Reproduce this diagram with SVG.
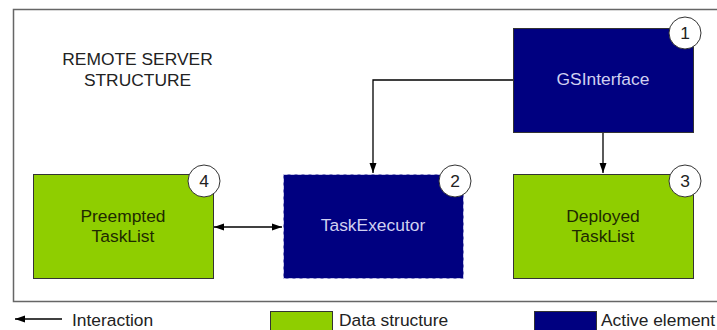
<svg xmlns="http://www.w3.org/2000/svg" width="717" height="330" viewBox="0 0 717 330">
<defs>
<marker id="ah" viewBox="0 0 10 10" refX="10" refY="5" markerWidth="10" markerHeight="10" markerUnits="userSpaceOnUse" orient="auto-start-reverse">
<path d="M0,1.5 L10,5 L0,8.5 z" fill="#000"/>
</marker>
</defs>
<style>
text{font-family:"Liberation Sans",Arial,sans-serif;font-size:17.4px}
.act{fill:#000080;stroke:#333;stroke-width:1}
.dat{fill:#8fce00;stroke:#333;stroke-width:1}
.lt{fill:#d0d0f0;text-anchor:middle}
.dt{fill:#1e2a00;text-anchor:middle}
.badge{fill:#fff;stroke:#333;stroke-width:1}
.bn{fill:#222;text-anchor:middle}
.edge{fill:none;stroke:#000;stroke-width:1.3}
</style>
<rect x="0" y="0" width="717" height="330" fill="#fff"/>
<path d="M720,9.5 H13.5 V301.5 H720" fill="none" stroke="#666" stroke-width="1.5"/>
<text x="137.5" y="65" text-anchor="middle" fill="#222">REMOTE SERVER</text>
<text x="137.5" y="86" text-anchor="middle" fill="#222">STRUCTURE</text>
<g id="connectors">
<path class="edge" d="M513,80 H373 V173" marker-end="url(#ah)"/>
<path class="edge" d="M603,132 V173" marker-end="url(#ah)"/>
<path class="edge" d="M214,227 H282" marker-start="url(#ah)" marker-end="url(#ah)"/>
</g>
<g id="n1">
<rect class="act" x="513.5" y="28.5" width="180" height="104"/>
<text class="lt" x="603" y="85">GSInterface</text>
<circle class="badge" cx="685" cy="33" r="16"/>
<text class="bn" x="685" y="39">1</text>
</g>
<g id="n2">
<rect x="283.5" y="174.5" width="180" height="104" fill="#000080" stroke="#c8c8e8" stroke-width="1" stroke-dasharray="4,3"/>
<text class="lt" x="373" y="231">TaskExecutor</text>
<circle class="badge" cx="455" cy="181" r="16"/>
<text class="bn" x="455" y="187">2</text>
</g>
<g id="n3">
<rect class="dat" x="513.5" y="174.5" width="180" height="104"/>
<text class="dt" x="603" y="222">Deployed</text>
<text class="dt" x="603" y="242">TaskList</text>
<circle class="badge" cx="685" cy="181" r="16"/>
<text class="bn" x="685" y="187">3</text>
</g>
<g id="n4">
<rect class="dat" x="33.5" y="174.5" width="180" height="104"/>
<text class="dt" x="123" y="222">Preempted</text>
<text class="dt" x="123" y="242">TaskList</text>
<circle class="badge" cx="204" cy="181" r="16"/>
<text class="bn" x="204" y="187">4</text>
</g>
<g id="legend">
<path class="edge" d="M62,319 H15" marker-end="url(#ah)"/>
<text x="72" y="326" fill="#222">Interaction</text>
<rect class="dat" x="270.5" y="311.5" width="62" height="25"/>
<text x="339" y="326" fill="#222">Data structure</text>
<rect class="act" x="534.5" y="311.5" width="62" height="25"/>
<text x="601" y="326" fill="#222">Active element</text>
</g>
</svg>
